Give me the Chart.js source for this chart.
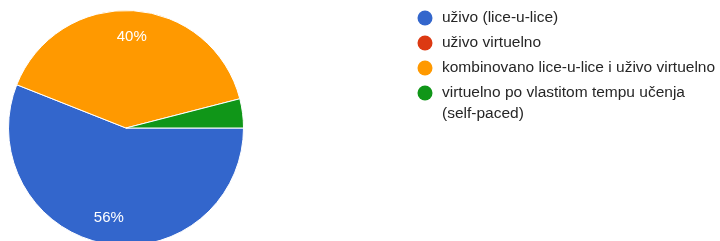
<!DOCTYPE html>
<html>
<head>
<meta charset="utf-8">
<script src="https://cdn.jsdelivr.net/npm/chart.js"></script>
<style>
  html, body { margin: 0; padding: 0; background: #fff; overflow: hidden; }
  #wrap { position: relative; width: 720px; height: 260px; }
</style>
</head>
<body>
<div id="wrap"><canvas id="chartCircle" width="720" height="260"></canvas></div>
<script>
// podaci sa slike
const labels = [
    'uživo (lice-u-lice)',
    'uživo virtuelno',
    'kombinovano lice-u-lice i uživo virtuelno',
    ['virtuelno po vlastitom tempu učenja', '(self-paced)']
];
const percents = [56, 0, 40, 4];
const colors = ['#3366cc', '#dc3912', '#ff9900', '#109618'];

// legenda desno i postoci unutar isječaka
const pieExtras = {
    id: 'pieExtras',
    afterDraw(chart) {
        const ctx = chart.ctx;
        const meta = chart.getDatasetMeta(0);
        ctx.save();
        ctx.font = '15px "Liberation Sans", Arial, sans-serif';
        ctx.textAlign = 'center';
        ctx.textBaseline = 'middle';
        ctx.fillStyle = '#fff';
        meta.data.forEach(function(arc, i) {
            if (percents[i] < 5) return;
            const mid = (arc.startAngle + arc.endAngle) / 2;
            const r = arc.outerRadius * 0.78;
            ctx.fillText(percents[i] + '%', arc.x + Math.cos(mid) * r, arc.y + Math.sin(mid) * r);
        });

        // legenda
        ctx.font = '15.5px "Liberation Sans", Arial, sans-serif';
        ctx.textAlign = 'left';
        let y = 18;
        labels.forEach(function(lbl, i) {
            ctx.beginPath();
            ctx.arc(425, y, 7.5, 0, Math.PI * 2);
            ctx.fillStyle = colors[i];
            ctx.fill();
            ctx.fillStyle = '#262626';
            const lines = Array.isArray(lbl) ? lbl : [lbl];
            lines.forEach(function(line, j) {
                ctx.fillText(line, 442, y + j * 21);
            });
            y += 25;
        });
        ctx.restore();
    }
};

new Chart(document.getElementById('chartCircle'), {
    type: 'pie',
    data: {
        labels: labels,
        datasets: [{
            data: percents,
            backgroundColor: colors,
            borderColor: '#fff',
            borderWidth: 1
        }]
    },
    options: {
        responsive: false,
        animation: false,
        rotation: 90,
        layout: { padding: { left: 8, right: 476, top: 10, bottom: 14 } },
        plugins: {
            legend: { display: false },
            tooltip: { enabled: false }
        }
    },
    plugins: [pieExtras]
});
</script>
</body>
</html>
